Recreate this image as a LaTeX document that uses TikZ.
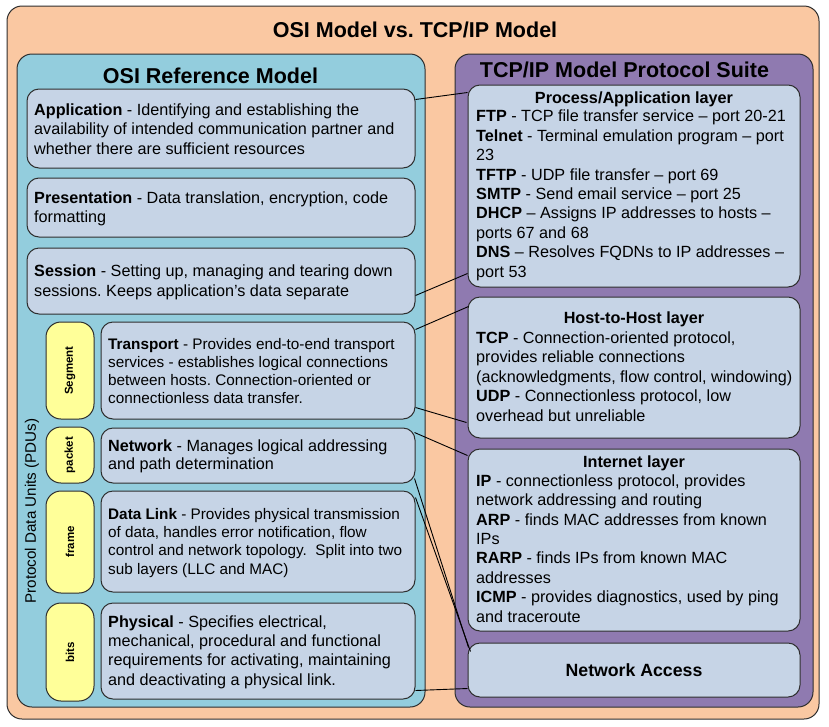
\documentclass[tikz,border=0pt]{standalone}
\usepackage{fontspec}
\setmainfont{Liberation Sans}
\frenchspacing
\definecolor{peach}{HTML}{FAC8A2}
\definecolor{teal}{HTML}{93CDDD}
\definecolor{purp}{HTML}{8F7AB0}
\definecolor{layer}{HTML}{C6D4E6}
\definecolor{pdu}{HTML}{FFFF99}
\definecolor{edge}{HTML}{2E2E2E}
\begin{document}
\begin{tikzpicture}[x=1pt,y=-1pt,
  container/.style={draw=edge, line width=1pt, rounded corners=15pt, inner sep=0pt},
  layerbox/.style={draw=edge, line width=1pt, fill=layer, rounded corners=12pt, inner sep=0pt},
  pdubox/.style={draw=edge, line width=1pt, fill=pdu, rounded corners=15pt, inner sep=0pt, rotate=90,
    font=\fontsize{11.5}{13}\selectfont\bfseries},
  bodytext/.style={inner sep=0pt, anchor=base west, align=left},
  bigtitle/.style={inner sep=0pt, anchor=base, font=\fontsize{21.5}{24}\selectfont\bfseries},
  subtitle/.style={inner sep=0pt, anchor=base, font=\fontsize{16.2}{19.5}\selectfont\bfseries},
  conn/.style={draw=black, line width=0.9pt}
]
\useasboundingbox (0,0) rectangle (829,726);
% containers
\node[container, fill=peach, minimum width=812pt, minimum height=713pt] (outer) at (413,362.5) {};
\node[container, fill=teal, minimum width=408pt, minimum height=653pt] (osi) at (221,380.5) {};
\node[container, fill=purp, minimum width=358pt, minimum height=653pt] (tcp) at (634,380.5) {};
% titles
\node[bigtitle] (maintitle) at (415,37.5) {OSI Model vs. TCP/IP Model};
\node[bigtitle] (osititle) at (210.5,83) {OSI Reference Model};
\node[bigtitle] (tcptitle) at (624.5,77) {TCP/IP Model Protocol Suite};
% OSI layers
\node[layerbox, minimum width=388pt, minimum height=79pt] (app) at (221,128.5) {};
\node[layerbox, minimum width=388pt, minimum height=59pt] (pres) at (221,207.5) {};
\node[layerbox, minimum width=388pt, minimum height=66pt] (sess) at (221,281) {};
\node[layerbox, minimum width=314pt, minimum height=97pt] (trans) at (258,370.5) {};
\node[layerbox, minimum width=314pt, minimum height=55pt] (net) at (258,455.5) {};
\node[layerbox, minimum width=314pt, minimum height=101pt] (dl) at (258,541.5) {};
\node[layerbox, minimum width=314pt, minimum height=96pt] (phys) at (258,651) {};
% PDUs
\node[pdubox, minimum width=97pt, minimum height=48pt] (seg) at (70,370.5) {Segment};
\node[pdubox, minimum width=56pt, minimum height=48pt] (pkt) at (70,455) {packet};
\node[pdubox, minimum width=102pt, minimum height=48pt] (frm) at (70,542) {frame};
\node[pdubox, minimum width=98pt, minimum height=48pt] (bits) at (70,652) {bits};
\node[inner sep=0pt, rotate=90, font=\fontsize{15.2}{18}\selectfont] (pdulabel) at (32,511) {Protocol Data Units (PDUs)};
% TCP/IP layers
\node[layerbox, minimum width=332pt, minimum height=202pt] (proc) at (634,186) {};
\node[layerbox, minimum width=332pt, minimum height=141pt] (host) at (634,367.5) {};
\node[layerbox, minimum width=332pt, minimum height=182pt] (inet) at (634,540) {};
\node[layerbox, minimum width=332pt, minimum height=54pt, font=\fontsize{17.7}{20}\selectfont\bfseries] (na) at (634,670) {Network Access};
% OSI texts (anchor = baseline of last line)
\node[bodytext, font=\fontsize{16.2}{19.5}\selectfont] (appt) at (34,154)
 {\textbf{Application} - Identifying and establishing the\\availability of intended communication partner and\\whether there are sufficient resources};
\node[bodytext, font=\fontsize{16.2}{19.7}\selectfont] (prest) at (34,222.7)
 {\textbf{Presentation} - Data translation, encryption, code\\formatting};
\node[bodytext, font=\fontsize{16.2}{20}\selectfont] (sesst) at (34,296)
 {\textbf{Session} - Setting up, managing and tearing down\\sessions. Keeps application’s data separate};
\node[bodytext, font=\fontsize{15.3}{18}\selectfont] (transt) at (108,403)
 {\textbf{Transport} - Provides end-to-end transport\\services - establishes logical connections\\between hosts. Connection-oriented or\\connectionless data transfer.};
\node[bodytext, font=\fontsize{16.2}{18}\selectfont] (nett) at (108,469)
 {\textbf{Network} - Manages logical addressing\\and path determination};
\node[bodytext, font=\fontsize{15.3}{18.3}\selectfont] (dlt) at (108,574)
 {\textbf{Data Link} - Provides physical transmission\\of data, handles error notification, flow\\control and network topology.\ \ Split into two\\sub layers (LLC and MAC)};
\node[bodytext, font=\fontsize{16.2}{19.3}\selectfont] (physt) at (108,685)
 {\textbf{Physical} - Specifies electrical,\\mechanical, procedural and functional\\requirements for activating, maintaining\\and deactivating a physical link.};
% TCP/IP texts
\node[subtitle] (proctitle) at (634,103) {Process/Application layer};
\node[bodytext, font=\fontsize{16.2}{19.4}\selectfont] (proct) at (476,277)
 {\textbf{FTP} - TCP file transfer service – port 20-21\\
  \textbf{Telnet} - Terminal emulation program – port\\
  23\\
  \textbf{TFTP} - UDP file transfer – port 69\\
  \textbf{SMTP} - Send email service – port 25\\
  \textbf{DHCP} – Assigns IP addresses to hosts –\\
  ports 67 and 68\\
  \textbf{DNS} – Resolves FQDNs to IP addresses –\\
  port 53};
\node[subtitle] (hosttitle) at (634,323) {Host-to-Host layer};
\node[bodytext, font=\fontsize{16.2}{19.5}\selectfont] (hostt) at (476,421)
 {\textbf{TCP} - Connection-oriented protocol,\\
  provides reliable connections\\
  (acknowledgments, flow control, windowing)\\
  \textbf{UDP} - Connectionless protocol, low\\
  overhead but unreliable};
\node[subtitle] (inettitle) at (634,467) {Internet layer};
\node[bodytext, font=\fontsize{16.2}{19.4}\selectfont] (inett) at (476,622)
 {\textbf{IP} - connectionless protocol, provides\\
  network addressing and routing\\
  \textbf{ARP} - finds MAC addresses from known\\
  IPs\\
  \textbf{RARP} - finds IPs from known MAC\\
  addresses\\
  \textbf{ICMP} - provides diagnostics, used by ping\\
  and traceroute};
% connectors
\draw[conn] ([yshift=-11pt]app.north east) -- ([yshift=-8pt]proc.north west);
\draw[conn] ([yshift=19pt]sess.south east) -- ([yshift=14pt]proc.south west);
\draw[conn] ([yshift=-8pt]trans.north east) -- ([xshift=1pt,yshift=-10pt]host.north west);
\draw[conn] ([yshift=12pt]trans.south east) -- ([xshift=-1pt,yshift=16pt]host.south west);
\draw[conn] ([xshift=-1pt,yshift=-5pt]net.north east) -- ([yshift=-7pt]inet.north west);
\draw[conn] ([xshift=-1pt,yshift=5pt]net.south east) -- ([xshift=1pt,yshift=-5pt]na.north west);
\draw[conn] ([yshift=-7pt]dl.north east) -- ([xshift=3pt,yshift=-9pt]na.north west);
\draw[conn] ([yshift=9pt]phys.south east) -- ([yshift=9pt]na.south west);
\end{tikzpicture}
\end{document}
